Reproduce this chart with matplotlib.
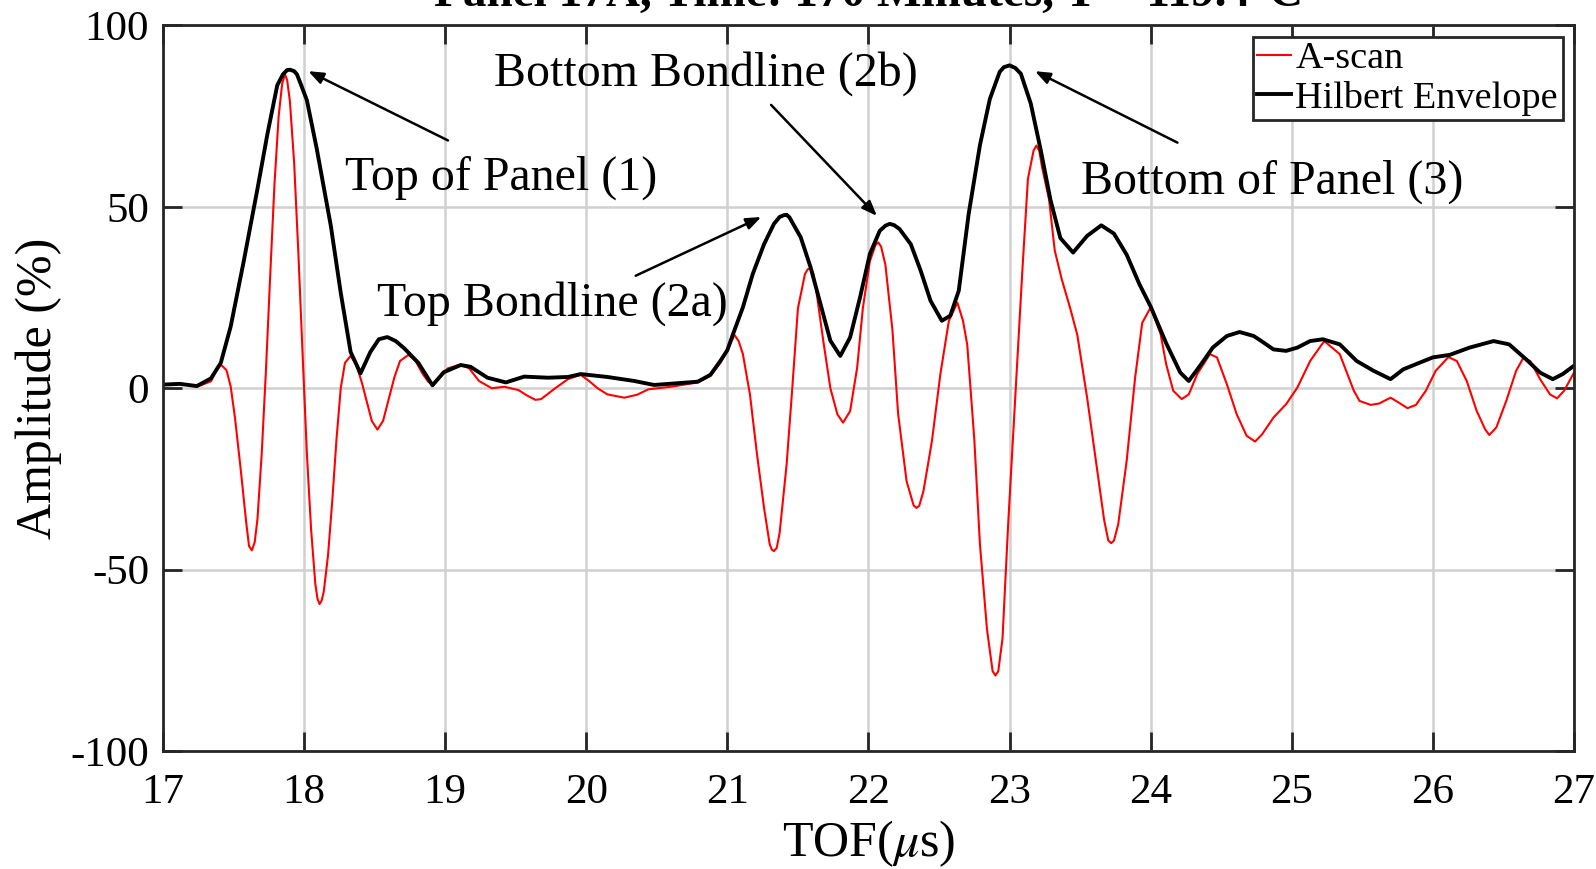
import numpy as np
import matplotlib
matplotlib.use("Agg")
import matplotlib.pyplot as plt

plt.rcParams["font.family"] = ["Liberation Serif", "DejaVu Serif"]
plt.rcParams["mathtext.fontset"] = "stix"
plt.rcParams["axes.unicode_minus"] = False

# A-scan (red): TOF in us, amplitude in %
ascan_t = [17.00, 17.12, 17.24, 17.34, 17.38, 17.41, 17.45, 17.48, 17.51, 17.55,
           17.59, 17.61, 17.63, 17.65, 17.67, 17.70, 17.73, 17.76, 17.79, 17.82,
           17.845, 17.865, 17.88, 17.90, 17.93, 17.96, 17.99, 18.02, 18.05, 18.08,
           18.095, 18.11, 18.125, 18.14, 18.17, 18.20, 18.23, 18.26, 18.29, 18.33,
           18.37, 18.41, 18.45, 18.48, 18.52, 18.56, 18.60, 18.64, 18.68, 18.74,
           18.79, 18.84, 18.88, 18.92, 18.97, 19.02, 19.11, 19.17, 19.24, 19.33,
           19.42, 19.52, 19.58, 19.64, 19.68, 19.73, 19.78, 19.87, 19.96, 20.02,
           20.08, 20.15, 20.27, 20.36, 20.44, 20.60, 20.79, 20.88, 20.95, 21.00,
           21.05, 21.08, 21.11, 21.16, 21.21, 21.26, 21.30, 21.315, 21.33, 21.35,
           21.37, 21.42, 21.46, 21.50, 21.55, 21.57, 21.59, 21.61, 21.63, 21.68,
           21.73, 21.78, 21.82, 21.87, 21.92, 21.96, 22.01, 22.05, 22.07, 22.09,
           22.12, 22.17, 22.21, 22.27, 22.32, 22.34, 22.36, 22.39, 22.45, 22.51,
           22.57, 22.63, 22.67, 22.70, 22.75, 22.79, 22.84, 22.88, 22.90, 22.92,
           22.95, 22.99, 23.04, 23.09, 23.13, 23.17, 23.19, 23.21, 23.23, 23.28,
           23.32, 23.37, 23.43, 23.48, 23.55, 23.62, 23.67, 23.70, 23.72, 23.74,
           23.77, 23.83, 23.89, 23.94, 24.00, 24.07, 24.11, 24.16, 24.22, 24.27,
           24.33, 24.42, 24.47, 24.54, 24.61, 24.68, 24.74, 24.79, 24.87, 24.96,
           25.04, 25.13, 25.23, 25.34, 25.44, 25.48, 25.56, 25.62, 25.70, 25.76,
           25.82, 25.88, 25.95, 26.02, 26.11, 26.17, 26.24, 26.31, 26.37, 26.40,
           26.45, 26.52, 26.59, 26.64, 26.69, 26.76, 26.83, 26.88, 26.93, 27.00]
ascan_amp = [1.0, 1.3, 0.4, 1.9, 5.0, 6.5, 5.0, 0.5, -8, -22,
             -37, -43.5, -44.7, -42.5, -36, -18, 5, 31, 56, 75,
             84, 86.5, 85, 79, 62, 37, 9, -18, -39, -54,
             -58, -59.5, -58.5, -56, -46, -31, -14, 0, 7, 8.9,
             6.5, 1.5, -4.5, -9, -11.4, -9, -3, 3, 7.5, 9.2,
             7.5, 4, 1.8, 1.0, 3.5, 5.5, 6.5, 5.5, 2.0, 0,
             0.4, -0.5, -2, -3.2, -3.0, -1.5, 0, 2.5, 3.7, 2.0,
             0, -1.7, -2.6, -1.8, -0.3, 0.4, 1.6, 3.4, 7.0, 10.5,
             14.7, 13, 9.4, -1.7, -18.2, -33, -43, -44.5, -44.9, -44,
             -40, -21, 0, 22, 31.5, 32.8, 33.1, 31.5, 27, 13,
             0, -7.2, -9.5, -6.3, 5.7, 22, 35, 39.5, 40.2, 39,
             34, 16, -7, -25.6, -32.3, -33, -32.4, -28.3, -14.5, 4,
             18.6, 23.6, 18.6, 12, -14, -43, -66.5, -78, -79.2, -78,
             -69, -37.5, -2.7, 32, 57.7, 65.5, 66.9, 65.5, 61, 52,
             38, 30, 22, 14.7, -2.7, -22.4, -36.3, -42, -42.7, -42,
             -37.5, -20, 3, 18, 22.3, 15, 6.6, -0.7, -3, -1.7,
             3.9, 9.4, 8.5, 1.1, -7.2, -13.1, -14.7, -12.7, -8.1, -4.4,
             0.2, 7.5, 13, 9.4, -0.7, -3.5, -4.6, -4.2, -2.6, -4,
             -5.5, -4.6, -0.7, 4.8, 8.6, 7.5, 2, -6.2, -11.3, -12.9,
             -10.8, -3.5, 4.8, 8.3, 7.5, 2.5, -1.7, -2.8, -0.7, 4.3]

# Hilbert envelope (black)
env_t = [17.00, 17.12, 17.24, 17.34, 17.41, 17.48, 17.57, 17.67, 17.74, 17.81,
         17.85, 17.88, 17.90, 17.93, 17.95, 17.98, 18.02, 18.09, 18.19, 18.26,
         18.33, 18.40, 18.47, 18.53, 18.59, 18.65, 18.71, 18.81, 18.91, 18.99,
         19.11, 19.18, 19.30, 19.43, 19.56, 19.73, 19.87, 19.96, 20.15, 20.34,
         20.48, 20.62, 20.79, 20.88, 20.95, 21.00, 21.04, 21.11, 21.18, 21.26,
         21.33, 21.37, 21.40, 21.42, 21.44, 21.52, 21.59, 21.66, 21.73, 21.80,
         21.87, 21.94, 22.01, 22.08, 22.12, 22.15, 22.18, 22.22, 22.30, 22.37,
         22.44, 22.52, 22.58, 22.64, 22.71, 22.79, 22.86, 22.93, 22.96, 23.00,
         23.04, 23.08, 23.15, 23.22, 23.29, 23.36, 23.45, 23.55, 23.65, 23.74,
         23.83, 23.92, 24.00, 24.11, 24.21, 24.27, 24.35, 24.44, 24.54, 24.63,
         24.73, 24.80, 24.87, 24.96, 25.04, 25.13, 25.22, 25.34, 25.46, 25.58,
         25.70, 25.79, 25.91, 26.00, 26.12, 26.26, 26.43, 26.54, 26.66, 26.76,
         26.85, 26.92, 27.00]
env_amp = [1.0, 1.2, 0.6, 2.7, 7, 17, 34.5, 55, 70, 83.5,
           86.5, 87.7, 87.8, 87.4, 86.5, 83.5, 79.4, 66, 44.7, 26.3,
           10, 4.1, 10, 13.5, 14.1, 13, 11, 7, 0.8, 4.4,
           6.4, 5.9, 2.9, 1.6, 3.2, 2.9, 3.1, 3.9, 3.1, 2.0,
           0.9, 1.3, 1.8, 3.7, 7.5, 10.5, 14.9, 22.3, 31.5, 39.7,
           45.3, 47.2, 47.7, 47.8, 47.1, 41.6, 33.3, 23.2, 13.1, 8.9,
           14, 25, 37, 43.4, 44.8, 45.3, 45.0, 43.9, 39.7, 32.4,
           24.1, 18.6, 20, 26.9, 48, 67, 79.7, 87.2, 88.5, 89,
           88.3, 86.7, 78.5, 65.8, 51.9, 41.4, 37.4, 42, 44.9, 42.6,
           36.8, 28.7, 22.5, 12.4, 4.3, 2.0, 6.2, 11.2, 14.4, 15.5,
           14.4, 12.6, 10.7, 10.3, 11.2, 13, 13.5, 12.1, 7.5, 4.8,
           2.5, 5.2, 7.1, 8.5, 9.2, 11.2, 13, 12.1, 8, 4.3,
           2.5, 3.9, 6.2]

# annotations: label, text position, arrow tail, arrow head (data units)
labels = ["Top of Panel (1)", "Top Bondline (2a)", "Bottom Bondline (2b)", "Bottom of Panel (3)"]
label_xy = [(19.40, 57.9), (19.76, 23.4), (20.85, 86.8), (24.86, 57.0)]
tail_xy = [(19.02, 68.3), (20.35, 31.0), (21.31, 78.1), (24.19, 67.7)]
head_xy = [(18.03, 87.4), (21.24, 47.2), (22.06, 47.5), (23.18, 87.4)]

fig = plt.figure(figsize=(15.96, 8.69), dpi=100)
ax = fig.add_axes([0.1021, 0.1358, 0.8841, 0.8349])

ax.plot(ascan_t, ascan_amp, color="red", lw=1.5, label="A-scan")
ax.plot(env_t, env_amp, color="black", lw=2.8, label="Hilbert Envelope")

for lab, xy, tail, head in zip(labels, label_xy, tail_xy, head_xy):
    ax.text(xy[0], xy[1], lab, fontsize=34.5, ha="center", va="center")
    ax.annotate("", xy=head, xytext=tail,
                arrowprops=dict(arrowstyle="-|>,head_length=0.9,head_width=0.35",
                                color="black", lw=1.8, shrinkA=0, shrinkB=0))

ax.set_xlim(17, 27)
ax.set_ylim(-100, 100)
ax.set_xticks(range(17, 28))
ax.set_yticks([-100, -50, 0, 50, 100])
ax.grid(True, color="#d0d0d0", lw=1.8)
ax.set_axisbelow(True)
ax.tick_params(direction="in", length=14, width=2, labelsize=31,
               top=True, right=True, colors="#262626", labelcolor="black", pad=10)
ax.tick_params(axis="x", pad=16)
for s in ax.spines.values():
    s.set_linewidth(2)
    s.set_color("#262626")

ax.set_xlabel(r"TOF($\mu$s)", fontsize=36, labelpad=5)
ax.set_ylabel("Amplitude (%)", fontsize=36, labelpad=6)
ax.set_title("Panel 17A, Time: 170 Minutes, T = 119.4°C", fontsize=34,
             fontweight="bold", pad=14)

leg = ax.legend(loc="upper right", fontsize=27.5, handlelength=0.9, handletextpad=0.1,
                borderpad=0.12, labelspacing=0.12, borderaxespad=0.3, fancybox=False,
                framealpha=1)
leg.get_frame().set_edgecolor("#262626")
leg.get_frame().set_linewidth(2)

fig.savefig("out.png", dpi=100)
